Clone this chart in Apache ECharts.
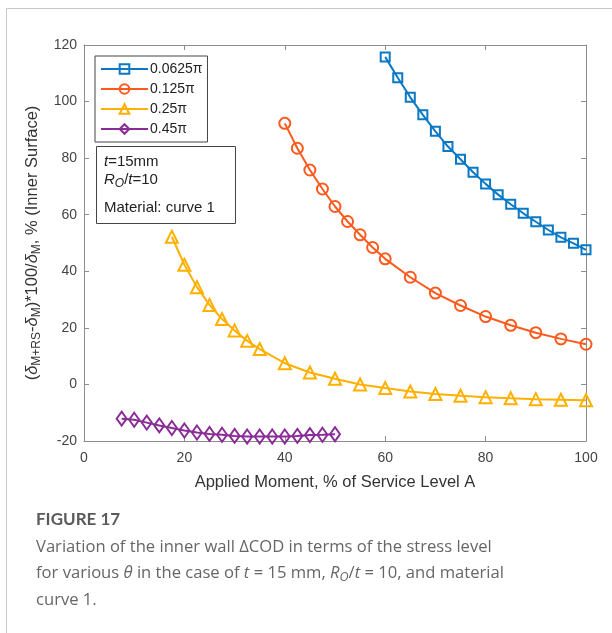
<!DOCTYPE html>
<html>
<head>
<meta charset="utf-8">
<script src="https://cdn.jsdelivr.net/npm/echarts@6/dist/echarts.min.js"></script>
<style>
  html, body { margin: 0; padding: 0; background: #fff; }
  #chart { width: 612px; height: 633px; }
</style>
</head>
<body>
<div id="chart"></div>
<script>
// Applied moment (% of Service Level A) for each crack angle
const x0625 = [60, 62.5, 65, 67.5, 70, 72.5, 75, 77.5, 80, 82.5, 85, 87.5, 90, 92.5, 95, 97.5, 100];
const y0625 = [115.8, 108.4, 101.5, 95.3, 89.5, 84.1, 79.6, 75.0, 70.9, 67.1, 63.7, 60.5, 57.5, 54.6, 52.0, 49.9, 47.6];

const x125 = [40, 42.5, 45, 47.5, 50, 52.5, 55, 57.5, 60, 65, 70, 75, 80, 85, 90, 95, 100];
const y125 = [92.3, 83.5, 75.8, 69.1, 62.9, 57.6, 52.9, 48.4, 44.4, 37.9, 32.3, 27.9, 24.0, 20.9, 18.3, 16.1, 14.2];

const x25 = [17.5, 20, 22.5, 25, 27.5, 30, 32.5, 35, 40, 45, 50, 55, 60, 65, 70, 75, 80, 85, 90, 95, 100];
const y25 = [52.2, 42.3, 34.4, 28.1, 23.1, 19.1, 15.4, 12.5, 7.5, 4.2, 2.0, 0.0, -1.3, -2.5, -3.4, -4.0, -4.5, -4.9, -5.2, -5.4, -5.6];

const x45 = [7.5, 10, 12.5, 15, 17.5, 20, 22.5, 25, 27.5, 30, 32.5, 35, 37.5, 40, 42.5, 45, 47.5, 50];
const y45 = [-12.1, -12.5, -13.5, -14.5, -15.4, -16.3, -17.0, -17.5, -17.8, -18.2, -18.4, -18.4, -18.4, -18.4, -18.2, -17.9, -17.8, -17.6];

const seriesNames = ['0.0625\u03c0', '0.125\u03c0', '0.25\u03c0', '0.45\u03c0'];
const xTicks = [0, 20, 40, 60, 80, 100];
const yTicks = [-20, 0, 20, 40, 60, 80, 100, 120];

const colors = ['#0a78c4', '#fc5a1e', '#ffb000', '#8a2c96'];
const symbols = ['rect', 'circle', 'triangle', 'diamond'];
const sizes = [9, 11, 12, [10, 14]];

const pairs = (xs, ys) => xs.map((x, i) => [x, ys[i]]);
const dataSets = [pairs(x0625, y0625), pairs(x125, y125), pairs(x25, y25), pairs(x45, y45)];

const axisGray = '#8c8c8c';
const labelFont = 'Liberation Sans, Arial, sans-serif';
const capFont = 'Open Sans, sans-serif';

const chart = echarts.init(document.getElementById('chart'), null, { renderer: 'canvas' });

const series = dataSets.map((d, i) => ({
  name: seriesNames[i],
  type: 'line',
  data: d,
  xAxisIndex: 0,
  yAxisIndex: 0,
  symbol: symbols[i],
  symbolSize: sizes[i],
  showAllSymbol: true,
  animation: false,
  lineStyle: { color: colors[i], width: 2 },
  itemStyle: { color: 'rgba(255,255,255,0)', borderColor: colors[i], borderWidth: 2 },
  z: 3 + i
}));

const baseX = {
  type: 'value', min: xTicks[0], max: xTicks[xTicks.length - 1], interval: 20,
  splitLine: { show: false },
  axisLine: { show: true, onZero: false, lineStyle: { color: axisGray, width: 1 } },
  axisTick: { show: true, inside: true, length: 5, lineStyle: { color: axisGray } }
};
const baseY = {
  type: 'value', min: yTicks[0], max: yTicks[yTicks.length - 1], interval: 20,
  splitLine: { show: false },
  axisLine: { show: true, onZero: false, lineStyle: { color: axisGray, width: 1 } },
  axisTick: { show: true, inside: true, length: 5, lineStyle: { color: axisGray } }
};

const option = {
  backgroundColor: '#fff',
  animation: false,
  grid: { left: 84, top: 45, right: 26, bottom: 192, containLabel: false },
  xAxis: [
    Object.assign({}, baseX, {
      position: 'bottom',
      name: 'Applied Moment, % of Service Level A',
      nameLocation: 'middle', nameGap: 33,
      nameTextStyle: { color: '#333', fontSize: 16.5, fontFamily: labelFont },
      axisLabel: { color: '#444', fontSize: 14, fontFamily: labelFont, margin: 10 }
    }),
    Object.assign({}, baseX, { position: 'top', axisLabel: { show: false } })
  ],
  yAxis: [
    Object.assign({}, baseY, {
      position: 'left',
      name: '{p|(}{d|\u03b4}{s|M+RS}{p|-}{d|\u03b4}{s|M}{p|)*100/}{d|\u03b4}{s|M}{p|, % (Inner Surface)}',
      nameLocation: 'middle', nameGap: 39, nameRotate: 90,
      nameTextStyle: {
        color: '#333', fontSize: 16.5, fontFamily: labelFont,
        rich: {
          p: { fontSize: 16.5, fontFamily: labelFont, color: '#333' },
          d: { fontSize: 16.5, fontFamily: labelFont, fontStyle: 'italic', color: '#333' },
          s: { fontSize: 12, fontFamily: labelFont, color: '#333', padding: [9, 0, 0, 0] }
        }
      },
      axisLabel: { color: '#444', fontSize: 14, fontFamily: labelFont, margin: 7 }
    }),
    Object.assign({}, baseY, { position: 'right', axisLabel: { show: false } })
  ],
  legend: {
    data: seriesNames,
    orient: 'vertical',
    left: 95, top: 56,
    backgroundColor: '#fff',
    borderColor: '#444', borderWidth: 1, borderRadius: 0,
    padding: [6, 5, 6, 5],
    itemWidth: 47, itemHeight: 12, itemGap: 6,
    textStyle: { color: '#222', fontSize: 14, fontFamily: labelFont, padding: [0, 0, 0, -3] }
  },
  graphic: [
    // outer card frame
    { type: 'rect', left: 4, top: 6, shape: { width: 640, height: 660 }, style: { fill: 'none', stroke: '#c8c8c8', lineWidth: 1 }, silent: true, z: 0 },
    // parameter box inside the plot
    { type: 'rect', left: 96, top: 146, shape: { width: 139, height: 77 }, style: { fill: '#fff', stroke: '#444', lineWidth: 1 }, z: 10 },
    { type: 'text', left: 104, top: 154, z: 11, style: {
        text: '{i|t}{n|=15mm}', rich: { i: { fontStyle: 'italic', fontSize: 15, fontFamily: labelFont, fill: '#222' }, n: { fontSize: 15, fontFamily: labelFont, fill: '#222' } } } },
    { type: 'text', left: 104, top: 172, z: 11, style: {
        text: '{i|R}{si|O}{n|/}{i|t}{n|=10}', rich: { i: { fontStyle: 'italic', fontSize: 15, fontFamily: labelFont, fill: '#222' }, si: { fontStyle: 'italic', fontSize: 12, fontFamily: labelFont, fill: '#222', padding: [9, 0, 0, 0] }, n: { fontSize: 15, fontFamily: labelFont, fill: '#222' } } } },
    { type: 'text', left: 104, top: 200, z: 11, style: { text: 'Material: curve 1', fontSize: 15, fontFamily: labelFont, fill: '#222' } },
    // caption
    { type: 'text', left: 36, top: 511, style: { text: 'FIGURE 17', fontSize: 17, fontWeight: 'bold', fontFamily: 'Lato, Open Sans, sans-serif', fill: '#5a5a5a' } },
    { type: 'text', left: 36, top: 539, style: { text: 'Variation of the inner wall \u0394COD in terms of the stress level', fontSize: 16.6, fontFamily: capFont, fill: '#666' } },
    { type: 'text', left: 36, top: 565, style: {
        text: '{n|for various }{i|\u03b8}{n| in the case of }{i|t}{n| = 15 mm, }{i|R}{si|O}{n|/}{i|t}{n| = 10, and material}',
        rich: {
          n: { fontSize: 16.6, fontFamily: capFont, fill: '#666' },
          i: { fontSize: 16.6, fontFamily: capFont, fontStyle: 'italic', fill: '#666' },
          si: { fontSize: 12.5, fontFamily: capFont, fontStyle: 'italic', fill: '#666', padding: [8, 0, 0, 0] }
        } } },
    { type: 'text', left: 36, top: 592, style: { text: 'curve 1.', fontSize: 16.6, fontFamily: capFont, fill: '#666' } }
  ],
  series: series
};

chart.setOption(option);
</script>
</body>
</html>
